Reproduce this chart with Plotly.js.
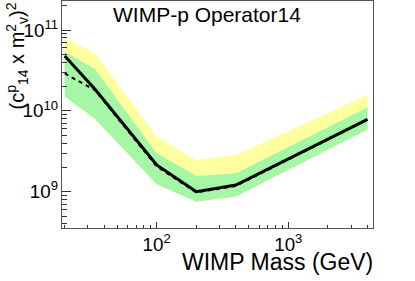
<!DOCTYPE html>
<html>
<head>
<meta charset="utf-8">
<script src="https://cdn.plot.ly/plotly-3.0.1.min.js"></script>
<style>html,body{margin:0;padding:0;background:#fff;}#chart{width:415px;height:281px;}</style>
</head>
<body>
<div id="chart"></div>
<script>
// WIMP masses (GeV)
const mass = [20, 34, 100, 200, 400, 4000];
// expected limit (median) and bands
const expected = [4.76e10, 1.85e10, 2.14e9, 1.0e9, 1.21e9, 7.85e9];
const observed = [2.9e10, 1.8e10, 2.05e9, 0.98e9, 1.18e9, 7.8e9];
const plus2sigma = [7.9e10, 5.15e10, 4.79e9, 2.47e9, 2.84e9, 1.57e10];
const plus1sigma = [5.4e10, 3.27e10, 2.98e9, 1.56e9, 1.69e9, 1.11e10];
const minus1sigma = [1.5e10, 7.93e9, 1.24e9, 7.5e8, 8.7e8, 5.9e9];
const minus2sigma = [1.5e10, 7.93e9, 1.24e9, 7.5e8, 8.7e8, 5.9e9];

function band(upper, lower) {
  return {
    x: mass.concat(mass.slice().reverse()),
    y: upper.concat(lower.slice().reverse())
  };
}
const yb = band(plus2sigma, minus2sigma);
const gb = band(plus1sigma, minus1sigma);

const traces = [
  {x: yb.x, y: yb.y, type: 'scatter', mode: 'lines', fill: 'toself',
   fillcolor: 'rgb(255,255,160)', line: {width: 0}, hoverinfo: 'skip'},
  {x: gb.x, y: gb.y, type: 'scatter', mode: 'lines', fill: 'toself',
   fillcolor: 'rgb(165,247,165)', line: {width: 0}, hoverinfo: 'skip'},
  {x: mass, y: observed, type: 'scatter', mode: 'lines',
   line: {color: '#000', width: 2, dash: '4px,4px'}},
  {x: mass, y: expected, type: 'scatter', mode: 'lines',
   line: {color: '#000', width: 3}}
];

const font = 'Liberation Sans, Arial, Helvetica, sans-serif';
const layout = {
  width: 415, height: 281,
  margin: {l: 62, r: 42, t: 1, b: 53, pad: 0},
  paper_bgcolor: '#fff', plot_bgcolor: '#fff',
  showlegend: false,
  font: {family: font, color: '#000', size: 15},
  xaxis: {
    type: 'log', range: [1.2804, 3.6436],
    dtick: 1, exponentformat: 'power',
    ticks: 'inside', ticklen: 6, tickcolor: '#333', tickwidth: 1,
    minor: {ticks: 'inside', ticklen: 3, tickcolor: '#333', dtick: 'D1', showgrid: false},
    showline: true, linecolor: '#555', linewidth: 1, mirror: true,
    showgrid: false, zeroline: false,
    tickfont: {size: 15, family: font}
  },
  yaxis: {
    type: 'log', range: [8.551, 11.3587],
    dtick: 1, exponentformat: 'power',
    ticks: 'inside', ticklen: 9, tickcolor: '#333', tickwidth: 1,
    minor: {ticks: 'inside', ticklen: 5, tickcolor: '#333', dtick: 'D1', showgrid: false},
    showline: true, linecolor: '#555', linewidth: 1, mirror: true,
    showgrid: false, zeroline: false,
    tickfont: {size: 15, family: font}
  },
  annotations: [
    {text: 'WIMP-p Operator14', xref: 'paper', yref: 'paper',
     x: (207 - 62) / 311, y: 1, xanchor: 'center', yanchor: 'top',
     showarrow: false, font: {size: 21, family: font}},
    {text: 'WIMP Mass (GeV)', xref: 'paper', yref: 'paper',
     x: 1.006, y: -(277 - 228) / 227, xanchor: 'right', yanchor: 'bottom',
     showarrow: false, font: {size: 23, family: font}},
    {text: '(c<sup>p</sup><sub>14</sub> x m<sup>2</sup><sub>v</sub>)<sup>2</sup>',
     xref: 'paper', yref: 'paper', textangle: -90,
     x: (17 - 62) / 311, y: 1.0, xanchor: 'center', yanchor: 'top',
     showarrow: false, font: {size: 20, family: font}}
  ]
};

Plotly.newPlot('chart', traces, layout, {displayModeBar: false, staticPlot: true});
</script>
</body>
</html>
